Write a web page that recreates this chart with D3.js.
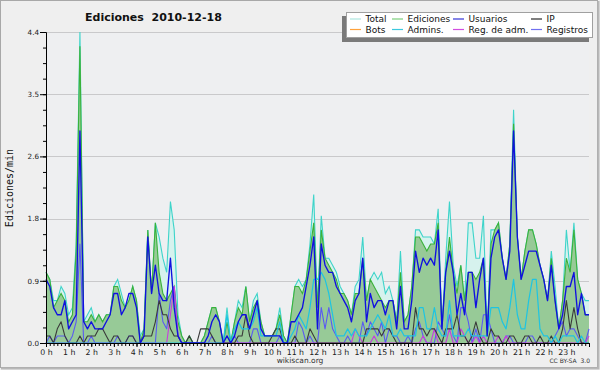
<!DOCTYPE html>
<html>
<head>
<meta charset="utf-8">
<script src="https://cdn.jsdelivr.net/npm/d3@7"></script>
<style>
  body { margin: 0; background: #f0f0f0; }
  svg { display: block; font-family: "DejaVu Sans", sans-serif; }
</style>
</head>
<body>
<svg id="chart" width="600" height="370"></svg>
<script>
// edits per minute, one value every 10 minutes (6 per hour, 0h .. 24h)
const total = [
  1.0,0.9,0.6,0.6,0.8,0.7,  0.4,0.5,1.4,4.4,0.3,0.4,  0.5,0.3,0.4,0.3,0.4,0.4,
  0.8,0.9,0.7,0.5,0.6,0.8,  0.6,0.1,0.2,1.6,0.7,1.7,  1.5,1.2,1.0,2.0,1.6,0.4,
  0.1,0,0.1,0,0,0,          0.1,0.3,0.5,0.5,0.3,0,    0.5,0,0.3,0.6,0.5,0.8,
  0.3,0.6,0.7,0.3,0.1,0.1,  0.1,0.2,0.5,0.1,0,0.4,    0.8,0.9,0.8,0.9,1.4,2.1,
  0.5,1.8,1.2,1.2,1.1,1.0,  0.8,0.7,0.6,0.4,0.8,0.9,  1.5,0.6,0.9,1.0,0.9,1.0,
  0.7,0.8,0.6,0.3,1.3,0.3,  0.4,0.8,1.6,1.6,1.5,1.5,  1.5,1.4,1.9,0.2,1.2,2.0,
  1.1,0.8,1.1,0.6,1.7,1.7,  1.2,1.2,1.8,0.1,1.6,1.6,  1.7,1.2,0.9,1.4,3.3,1.5,
  0.9,1.3,1.6,1.6,1.4,1.1,  0.9,0.6,1.3,0.8,0.2,0.6,  1.6,1.0,1.7,0.9,0.7,0.6,
  0.6
];
const ediciones = [
  1.0,0.9,0.5,0.6,0.7,0.6,  0.3,0.4,1.3,4.2,0.3,0.3,  0.4,0.3,0.4,0.3,0.4,0.4,
  0.8,0.8,0.6,0.5,0.6,0.8,  0.6,0,0.2,1.6,0.7,1.7,    1.0,0.7,0.6,0.7,0.8,0.3,
  0.1,0,0.1,0,0,0,          0.1,0.3,0.5,0.5,0.3,0,    0.3,0,0.3,0.5,0.4,0.8,
  0.3,0.5,0.6,0.3,0.1,0.1,  0.1,0.2,0.4,0.1,0,0.4,    0.8,0.8,0.7,0.9,1.3,1.7,
  0.5,1.6,1.2,1.1,1.0,0.9,  0.7,0.7,0.6,0.4,0.7,0.7,  1.2,0.6,0.9,0.8,0.7,0.6,
  0.5,0.6,0.6,0.3,1.0,0.3,  0.4,0.8,1.5,1.5,1.4,1.3,  1.4,1.4,1.7,0.2,1.0,1.5,
  1.0,0.7,1.1,0.6,1.0,1.0,  0.9,1.0,1.2,0.1,1.4,1.6,  1.7,1.2,0.9,1.4,3.1,1.5,
  0.9,1.3,1.6,1.6,1.4,1.1,  0.9,0.6,1.2,0.6,0.2,0.6,  1.2,1.0,1.6,0.9,0.7,0.4,
  0.4
];
const usuarios = [
  0.9,0.8,0.5,0.4,0.4,0.6,  0.2,0.3,0.4,3.0,0.3,0.2,  0.3,0.2,0.2,0.2,0.3,0.4,
  0.7,0.7,0.4,0.5,0.7,0.7,  0.5,0,0.1,1.5,0.7,1.1,    0.7,0.6,0.6,1.2,0.5,0.1,
  0,0,0,0,0,0,              0,0.1,0.3,0.4,0.3,0,      0.1,0,0.1,0.3,0.4,0.4,
  0.2,0.4,0.6,0.2,0.1,0.1,  0.1,0.1,0.1,0,0,0.3,      0.3,0.4,0.5,0.8,1.1,1.5,
  0.2,1.4,1.1,1.0,1.0,0.8,  0.7,0.6,0.5,0.3,0.6,0.7,  1.2,0.3,0.7,0.5,0.6,0.6,
  0.4,0.6,0.6,0.2,0.8,0.2,  0.2,0.6,1.3,1.0,1.2,1.1,  1.2,1.1,1.6,0.2,1.0,1.3,
  1.0,0.4,0.7,0.4,1.0,1.0,  0.5,0.9,1.2,0.1,1.2,1.5,  1.6,1.2,0.9,1.3,3.0,1.5,
  0.9,1.1,1.3,1.3,1.3,1.1,  0.9,0.6,1.1,0.6,0.2,0.4,  0.8,0.8,1.0,0.4,0.7,0.4,
  0.4
];
const ip = [
  0.1,0.1,0,0.2,0.3,0.1,    0,0,0,0.1,0,0.1,          0.1,0.1,0.2,0.2,0.1,0,
  0.1,0.1,0,0,0.1,0.1,      0,0,0.1,0.1,0.1,0.3,      0.6,0.4,0.4,0.2,0.1,0.1,
  0,0,0.1,0,0,0.2,          0.2,0.2,0.1,0,0,0,        0,0,0,0.1,0.1,0.4,
  0.1,0,0,0,0,0,            0.1,0.2,0.2,0,0,0,        0.1,0,0,0,0.2,0.1,
  0,0,0,0,0,0,              0,0,0,0,0,0,              0,0.2,0.2,0.2,0.2,0.1,
  0.2,0.2,0.1,0,0,0,        0,0,0.5,0.2,0.2,0.1,      0.2,0.2,0.1,0,0.2,0.2,
  0.2,0.4,0.1,0.1,0,0.1,    0.3,0.1,0,0,0.2,0.1,      0.1,0,0,0.1,0.1,0,
  0,0.1,0.1,0,0,0.1,        0,0,0.1,0,0,0.2,          0.6,0.2,0.5,0.2,0,0,
  0
];
const admins = [
  0,0,0,0,0,0,              0,0,0,0,0,0,              0,0,0,0,0,0,
  0,0,0,0,0,0,              0,0,0,0,0,0,              0,0,0,0,0,0,
  0,0,0,0,0,0,              0,0,0,0,0,0,              0.4,0,0.2,0.3,0.2,0.2,
  0.2,0.3,0.5,0.1,0.1,0.1,  0.1,0.1,0.3,0,0,0.1,      0.2,0.4,0.3,0.2,0.5,0.9,
  0.9,1.0,0.9,0.7,0.4,0.1,  0.1,0.1,0.2,0.1,0.2,0.1,  0.1,0.1,0.2,0.3,0.4,0.3,
  0.2,0.4,0.1,0.1,0.2,0.1,  0.1,0.1,0.1,0.5,0.5,0.2,  0.2,0.5,0.2,0.1,0.1,0.6,
  0.1,0.1,0.1,0.1,0.2,0.1,  0.1,0.1,0.1,0.1,0.5,0.5,  0.5,0.3,0.2,0.5,0.9,0.4,
  0.2,0.2,0.6,0.9,0.9,0.2,  0.1,0.1,0,0.1,0,0.1,      0.1,0.1,0.1,0,0.1,0,
  0
];
const registros = [
  0,0.1,0,0.1,0.1,0.1,      0,0.1,0.3,1.4,0,0,        0.1,0,0,0,0,0,
  0,0.1,0,0,0.1,0.1,        0,0,0,0,0,0,              0.7,0.3,0.2,0.6,0.8,0.1,
  0,0,0,0,0,0,              0,0,0.1,0,0,0,            0,0,0.1,0,0,0,
  0,0.2,0.2,0,0,0,          0,0,0.1,0,0,0,            0,0.3,0.2,0,0.1,0,
  0,0.5,0.2,0.5,0.2,0.1,    0,0,0.1,0,0,0,            0.3,0.1,0.3,0.2,0.1,0.3,
  0,0.2,0.1,0.1,0,0,        0.1,0,0.2,0.3,0.1,0,      0,0,0.3,0.2,0.1,0.4,
  0.1,0,0.5,0.5,0.3,0,      0.2,0,0.4,0.4,0.2,0,      0,0,0.1,0.1,0,0,
  0,0,0.1,0.1,0,0,          0,0,0,0.1,0.2,0.3,        0.1,0.2,0.2,0.1,0,0,
  0.2
];
const regAdm = [
  0,0,0,0,0,0,              0,0,0,0,0,0,              0,0,0,0,0,0,
  0,0,0,0,0,0,              0,0,0,0,0,0,              0,0,0,0.4,0.8,0.1,
  0,0,0,0,0,0,              0,0,0,0,0,0,              0,0,0,0,0,0,
  0,0,0,0,0,0,              0,0,0,0,0,0,              0,0,0,0,0,0,
  0,0,0,0,0,0,              0,0,0,0,0.2,0.1,          0,0,0,0.1,0,0,
  0,0,0,0,0,0,              0,0,0,0,0.1,0,            0,0.2,0,0,0,0.2,
  0,0,0.2,0.1,0,0,          0.1,0,0.1,0,0,0,          0.1,0,0.1,0,0,0,
  0,0,0,0,0,0,              0,0,0,0,0,0,              0,0,0,0,0,0,
  0.1
];

const hours = d3.range(0, 24);
const yTicks = [0, 0.88, 1.76, 2.64, 3.52, 4.4];
const yTickLabels = ["0.0", "0.9", "1.8", "2.6", "3.5", "4.4"];

const legendItems = [
  {name: "Total", color: "#aee6df"},
  {name: "Ediciones", color: "#7ccf7c"},
  {name: "Usuarios", color: "#3434d8"},
  {name: "IP", color: "#2a2a2a"},
  {name: "Bots", color: "#ffa23c"},
  {name: "Admins.", color: "#3cc8de"},
  {name: "Reg. de adm.", color: "#d24ee0"},
  {name: "Registros", color: "#7070f0"}
];

const plot = {left: 46, right: 589, top: 32, bottom: 343};

const svg = d3.select("#chart");

// frame
svg.append("rect").attr("x", 0.5).attr("y", 0.5).attr("width", 597).attr("height", 367)
  .attr("fill", "#efefef").attr("stroke", "#a8a8a8");
svg.append("path").attr("d", "M1,368.5H598.5V1").attr("fill", "none")
  .attr("stroke", "#b8b8b8").attr("stroke-width", 2);

const x = d3.scaleLinear().domain([0, 144]).range([plot.left, plot.right]);
const y = d3.scaleLinear().domain([0, 4.4]).range([plot.bottom, plot.top]);

svg.append("rect").attr("x", plot.left).attr("y", plot.top)
  .attr("width", plot.right - plot.left).attr("height", plot.bottom - plot.top)
  .attr("fill", "#eeeff1");

// grid
svg.append("g").selectAll("line")
  .data(yTicks.slice(1))
  .enter().append("line")
  .attr("x1", plot.left).attr("x2", plot.right)
  .attr("y1", d => Math.round(y(d)) + 0.5).attr("y2", d => Math.round(y(d)) + 0.5)
  .attr("stroke", "#c9c9cb").attr("stroke-width", 1);

// areas
const area = vals => d3.area()
  .x((d, i) => x(i)).y0(y(0)).y1(d => y(d))(vals);
const line = vals => d3.line()
  .x((d, i) => x(i)).y(d => y(d))(vals);

svg.append("path").attr("d", area(total)).attr("fill", "#d6f2ee");
svg.append("path").attr("d", line(total)).attr("fill", "none")
  .attr("stroke", "#3ed4ca").attr("stroke-width", 1.1);
svg.append("path").attr("d", area(ediciones)).attr("fill", "#97ca97");
svg.append("path").attr("d", line(ediciones)).attr("fill", "none")
  .attr("stroke", "#3ab23a").attr("stroke-width", 1.1);

const lines = [
  {vals: registros, color: "#5a5af2", w: 1.1},
  {vals: regAdm, color: "#c83ce0", w: 1.1},
  {vals: ip, color: "#3a3a3a", w: 1.1},
  {vals: admins, color: "#1ec4e2", w: 1.2},
  {vals: usuarios, color: "#1010e0", w: 1.35}
];
lines.forEach(l => {
  svg.append("path").attr("d", line(l.vals)).attr("fill", "none")
    .attr("stroke", l.color).attr("stroke-width", l.w)
    .attr("stroke-linejoin", "round");
});

// axes
const yAxis = svg.append("g").attr("transform", "translate(" + plot.left + ",0)")
  .call(d3.axisLeft(y).tickValues(yTicks).tickFormat((d, i) => yTickLabels[i])
    .tickSize(6).tickPadding(1));
svg.append("g").attr("transform", "translate(" + plot.left + ",0)")
  .call(d3.axisLeft(y).tickValues(d3.range(0, 21).map(k => k * 0.22)).tickFormat("")
    .tickSize(3))
  .select(".domain").remove();
yAxis.selectAll("text").attr("font-size", 7.2).attr("fill", "#222")
  .attr("font-family", "DejaVu Sans");

const xAxis = svg.append("g").attr("transform", "translate(0," + plot.bottom + ")")
  .call(d3.axisBottom(x).tickValues(hours.map(h => h * 6)).tickFormat(d => (d / 6) + " h")
    .tickSize(4).tickPadding(2));
svg.append("g").attr("transform", "translate(0," + plot.bottom + ")")
  .call(d3.axisBottom(x).tickValues(d3.range(0, 145)).tickFormat("").tickSize(3))
  .select(".domain").remove();
xAxis.selectAll("text").attr("font-size", 7.8).attr("fill", "#222")
  .attr("font-family", "DejaVu Sans");
svg.selectAll(".domain").attr("stroke", "#000");
svg.selectAll(".tick line").attr("stroke", "#000");

// texts
svg.append("text").attr("x", 85).attr("y", 20.5)
  .attr("font-size", 11).attr("font-weight", "bold").attr("fill", "#111")
  .text("Ediciones  2010-12-18").style("white-space", "pre");
svg.append("text").attr("transform", "translate(13,188) rotate(-90)")
  .attr("text-anchor", "middle").attr("font-family", "DejaVu Sans Mono")
  .attr("font-size", 10).attr("fill", "#111").text("Ediciones/min");
svg.append("text").attr("x", 300).attr("y", 363).attr("text-anchor", "middle")
  .attr("font-size", 7.5).attr("fill", "#333").text("wikiscan.org");
svg.append("text").attr("x", 590).attr("y", 363).attr("text-anchor", "end")
  .attr("font-size", 6).attr("fill", "#333").style("white-space", "pre").text("CC BY-SA  3.0");

// legend
const lg = svg.append("g");
lg.append("rect").attr("x", 342).attr("y", 16).attr("width", 247).attr("height", 26)
  .attr("fill", "#7a7a7a");
lg.append("rect").attr("x", 346.5).attr("y", 12.5).attr("width", 246).attr("height", 25)
  .attr("fill", "#fff").attr("stroke", "#a0a0a0");
const colX = [350, 392, 453, 531];
const rowY = [19, 29.5];
legendItems.forEach((d, i) => {
  const cx = colX[i % 4], cy = rowY[Math.floor(i / 4)];
  lg.append("line").attr("x1", cx).attr("x2", cx + 11).attr("y1", cy).attr("y2", cy)
    .attr("stroke", d.color).attr("stroke-width", 1.2);
  lg.append("text").attr("x", cx + 15.5).attr("y", cy + 3.3)
    .attr("font-size", 9).attr("fill", "#111").text(d.name);
});
</script>
</body>
</html>
